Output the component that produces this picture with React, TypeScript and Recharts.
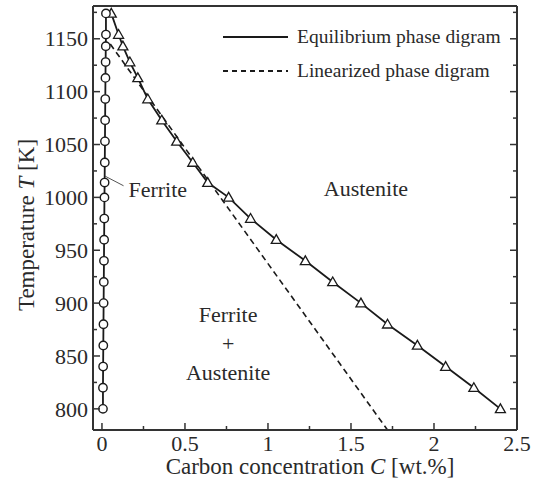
import React from "react";
import { ComposedChart, Line, XAxis, YAxis, ReferenceDot, ReferenceLine } from "recharts";

// temperatures shared by both equilibrium boundaries (K)
const temps = [800, 820, 840, 860, 880, 900, 920, 940, 960, 980, 1000, 1014, 1033, 1053, 1073, 1093, 1113, 1128, 1143, 1154, 1174];
// ferrite boundary (circles), wt.%
const ferriteC = [0.006, 0.006, 0.007, 0.008, 0.009, 0.01, 0.011, 0.012, 0.013, 0.014, 0.015, 0.016, 0.017, 0.018, 0.019, 0.02, 0.021, 0.022, 0.023, 0.024, 0.024];
// austenite boundary (triangles), wt.%
const austeniteC = [2.4, 2.24, 2.07, 1.9, 1.72, 1.56, 1.39, 1.225, 1.05, 0.895, 0.763, 0.637, 0.547, 0.45, 0.36, 0.276, 0.216, 0.168, 0.126, 0.1, 0.056];
// linearized boundary
const linearC = [0.05, 1.72];
const linearT = [1145, 780];

const xMajor = [0, 0.5, 1, 1.5, 2, 2.5];
const xMinor = [0.25, 0.75, 1.25, 1.75, 2.25];
const yMajor = [800, 850, 900, 950, 1000, 1050, 1100, 1150];
const yMinor = [825, 875, 925, 975, 1025, 1075, 1125, 1175];

const regionLabels = [
  { text: "Ferrite", c: 0.336, t: 1008 },
  { text: "Austenite", c: 1.59, t: 1009 },
  { text: "Ferrite", c: 0.76, t: 889 },
  { text: "+", c: 0.76, t: 862 },
  { text: "Austenite", c: 0.76, t: 835 },
];
// leader line from the ferrite curve to its label
const leaderC = [0.02, 0.13];
const leaderT = [1020, 1011];

const legendItems = [
  { name: "Equilibrium phase digram", dash: undefined },
  { name: "Linearized phase digram", dash: "5 4" },
];

const ferriteData = temps.map((t, i) => ({ c: ferriteC[i], t }));
const austeniteData = temps.map((t, i) => ({ c: austeniteC[i], t }));
const linearData = linearC.map((c, i) => ({ c, t: linearT[i] }));

const FONT = "'Liberation Serif', 'Times New Roman', serif";
const INK = "#1a1a1a";
const TEXT = "#2a2a2a";
const FRAME = { stroke: "#333", strokeWidth: 2 };
const txt = { fontFamily: FONT };

type Side = "bottom" | "top" | "left" | "right";

function tickFor(side: Side, majors: number[], showLabel: boolean) {
  return (props: any) => {
    const { x, y, payload } = props;
    const v = payload.value;
    const major = majors.includes(v);
    const len = major ? 7 : 4;
    let line = null;
    let label = null;
    if (side === "bottom") {
      line = <line x1={x} y1={y} x2={x} y2={y - len} stroke="#333" strokeWidth={1.5} />;
      if (showLabel && major)
        label = (
          <text x={x} y={y + 21} textAnchor="middle" style={txt} fontSize={22} fill={TEXT}>
            {v}
          </text>
        );
    } else if (side === "top") {
      line = <line x1={x} y1={y} x2={x} y2={y + len} stroke="#333" strokeWidth={1.5} />;
    } else if (side === "left") {
      line = <line x1={x} y1={y} x2={x + len} y2={y} stroke="#333" strokeWidth={1.5} />;
      if (showLabel && major)
        label = (
          <text x={x - 5} y={y} dy="0.35em" textAnchor="end" style={txt} fontSize={22} fill={TEXT}>
            {v}
          </text>
        );
    } else {
      line = <line x1={x} y1={y} x2={x - len} y2={y} stroke="#333" strokeWidth={1.5} />;
    }
    return (
      <g>
        {line}
        {label}
      </g>
    );
  };
}

const CircleDot = (p: any) => (
  <circle key={`c${p.index}`} cx={p.cx} cy={p.cy} r={4.2} fill="#fff" stroke={INK} strokeWidth={1.4} />
);

const TriangleDot = (p: any) => {
  const s = 5;
  const d = `M${p.cx},${p.cy - s} L${p.cx + s},${p.cy + s * 0.75} L${p.cx - s},${p.cy + s * 0.75} Z`;
  return <path key={`t${p.index}`} d={d} fill="#fff" stroke={INK} strokeWidth={1.3} />;
};

export default function App() {
  return (
    <div style={{ position: "absolute", left: 0, top: 0, width: 539, height: 488, background: "#fff", fontFamily: FONT }}>
      <ComposedChart width={539} height={488} margin={{ top: 5, right: 21, bottom: 0, left: 0 }}>
        <XAxis
          type="number"
          dataKey="c"
          domain={[-0.054, 2.5]}
          allowDataOverflow
          ticks={[...xMajor, ...xMinor]}
          interval={0}
          height={58}
          tickSize={0}
          tickMargin={0}
          tickLine={false}
          axisLine={FRAME}
          tick={tickFor("bottom", xMajor, true)}
          label={{
            content: (p: any) => {
              const vb = p.viewBox;
              return (
                <text x={vb.x + vb.width / 2 + 5} y={vb.y + 44} textAnchor="middle" style={txt} fontSize={23} fill={TEXT}>
                  <tspan>Carbon concentration </tspan>
                  <tspan fontStyle="italic">C</tspan>
                  <tspan> [wt.%]</tspan>
                </text>
              );
            },
          }}
        />
        <XAxis
          xAxisId="top"
          orientation="top"
          type="number"
          domain={[-0.054, 2.5]}
          allowDataOverflow
          ticks={[...xMajor, ...xMinor]}
          interval={0}
          height={1}
          tickSize={0}
          tickMargin={0}
          tickLine={false}
          axisLine={FRAME}
          tick={tickFor("top", xMajor, false)}
        />
        <YAxis
          type="number"
          dataKey="t"
          domain={[780, 1181]}
          allowDataOverflow
          ticks={[...yMajor, ...yMinor]}
          interval={0}
          width={93}
          tickSize={0}
          tickMargin={0}
          tickLine={false}
          axisLine={FRAME}
          tick={tickFor("left", yMajor, true)}
          label={{
            content: (p: any) => {
              const vb = p.viewBox;
              const cx = vb.x + 26;
              const cy = vb.y + vb.height / 2 + 7;
              return (
                <text x={cx} y={cy} transform={`rotate(-90 ${cx} ${cy})`} dy="0.35em" textAnchor="middle" style={txt} fontSize={23} fill={TEXT}>
                  <tspan>Temperature </tspan>
                  <tspan fontStyle="italic">T</tspan>
                  <tspan> [K]</tspan>
                </text>
              );
            },
          }}
        />
        <YAxis
          yAxisId="right"
          orientation="right"
          type="number"
          domain={[780, 1181]}
          allowDataOverflow
          ticks={[...yMajor, ...yMinor]}
          interval={0}
          width={1}
          tickSize={0}
          tickMargin={0}
          tickLine={false}
          axisLine={FRAME}
          tick={tickFor("right", yMajor, false)}
        />
        <ReferenceLine
          segment={leaderC.map((c, i) => ({ x: c, y: leaderT[i] }))}
          stroke="#555"
          strokeWidth={1}
        />
        <Line
          data={linearData}
          dataKey="t"
          type="linear"
          stroke={INK}
          strokeWidth={1.6}
          strokeDasharray="6 4"
          dot={false}
          isAnimationActive={false}
        />
        <Line
          data={austeniteData}
          dataKey="t"
          type="linear"
          stroke={INK}
          strokeWidth={1.8}
          dot={TriangleDot}
          isAnimationActive={false}
        />
        <Line
          data={ferriteData}
          dataKey="t"
          type="linear"
          stroke={INK}
          strokeWidth={1.8}
          dot={CircleDot}
          isAnimationActive={false}
        />
        {regionLabels.map((l, i) => (
          <ReferenceDot
            key={i}
            x={l.c}
            y={l.t}
            r={0}
            shape={(p: any) => (
              <text x={p.cx} y={p.cy} dy="0.35em" textAnchor="middle" style={txt} fontSize={22} fill={TEXT}>
                {l.text}
              </text>
            )}
          />
        ))}
      </ComposedChart>
      <div style={{ position: "absolute", left: 223, top: 20, fontSize: 19.5, color: TEXT, lineHeight: "34px" }}>
        {legendItems.map((it) => (
          <div key={it.name} style={{ display: "flex", alignItems: "center", height: 34 }}>
            <svg width={74} height={10}>
              <line x1={0} y1={5} x2={65} y2={5} stroke={INK} strokeWidth={2} strokeDasharray={it.dash} />
            </svg>
            <span>{it.name}</span>
          </div>
        ))}
      </div>
    </div>
  );
}
